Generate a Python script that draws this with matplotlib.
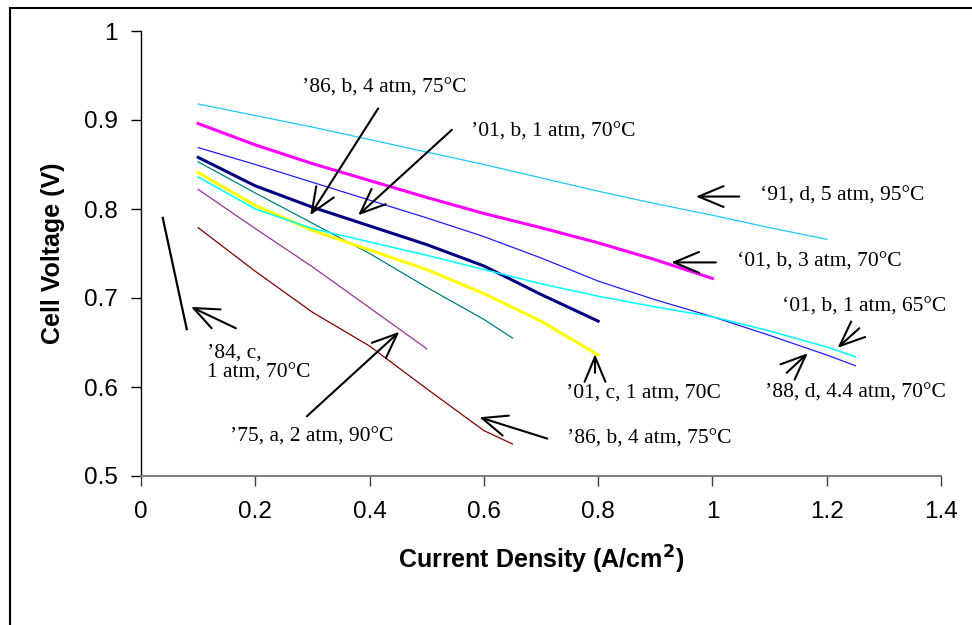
import matplotlib
matplotlib.use("Agg")
import matplotlib.pyplot as plt
from matplotlib.patches import Rectangle

# polarization curves
x_91 = [0.1, 0.2, 0.3, 0.4, 0.5, 0.6, 0.7, 0.8, 0.9, 1.0, 1.1, 1.2]
v_91 = [0.918, 0.905, 0.892, 0.878, 0.864, 0.850, 0.835, 0.820, 0.806, 0.793, 0.779, 0.766]

x_01b3 = [0.1, 0.2, 0.3, 0.4, 0.5, 0.6, 0.7, 0.8, 0.9, 1.0]
v_01b3 = [0.896, 0.872, 0.851, 0.832, 0.813, 0.795, 0.779, 0.762, 0.743, 0.722]

x_88 = [0.1, 0.2, 0.3, 0.4, 0.5, 0.6, 0.7, 0.8, 0.9, 1.0, 1.1, 1.2, 1.25]
v_88 = [0.869, 0.850, 0.830, 0.810, 0.790, 0.769, 0.745, 0.719, 0.698, 0.679, 0.658, 0.636, 0.624]

x_01b1_70 = [0.1, 0.2, 0.3, 0.4, 0.5, 0.6, 0.7, 0.8]
v_01b1_70 = [0.858, 0.826, 0.802, 0.781, 0.760, 0.736, 0.704, 0.674]

x_86a = [0.1, 0.2, 0.3, 0.4, 0.5, 0.6, 0.65]
v_86a = [0.853, 0.818, 0.784, 0.750, 0.712, 0.676, 0.655]

x_01c = [0.1, 0.2, 0.3, 0.4, 0.5, 0.6, 0.7, 0.8]
v_01c = [0.841, 0.804, 0.776, 0.754, 0.732, 0.705, 0.674, 0.636]

x_01b1_65 = [0.1, 0.2, 0.3, 0.4, 0.5, 0.6, 0.7, 0.8, 0.9, 1.0, 1.1, 1.2, 1.25]
v_01b1_65 = [0.836, 0.800, 0.778, 0.763, 0.748, 0.732, 0.716, 0.702, 0.690, 0.679, 0.663, 0.645, 0.634]

x_75 = [0.1, 0.2, 0.3, 0.4, 0.5]
v_75 = [0.822, 0.778, 0.735, 0.689, 0.643]

x_86b = [0.1, 0.2, 0.3, 0.4, 0.5, 0.6, 0.65]
v_86b = [0.779, 0.730, 0.684, 0.646, 0.598, 0.551, 0.536]

x_84 = [0.038, 0.08]
v_84 = [0.790, 0.665]

# (label, arrow tail, arrow tip)
notes = [
    ("\u201986, b, 4 atm, 75\u00b0C", (0.415, 0.913), (0.296, 0.793)),
    ("\u201901, b, 1 atm, 70\u00b0C", (0.544, 0.889), (0.380, 0.793)),
    ("\u201891, d, 5 atm, 95\u00b0C", (1.047, 0.814), (0.971, 0.814)),
    ("\u201801, b, 3 atm, 70\u00b0C", (1.006, 0.740), (0.928, 0.740)),
    ("\u201801, b, 1 atm, 65\u00b0C", (1.257, 0.666), (1.219, 0.644)),
    ("\u201988, d, 4.4 atm, 70\u00b0C", (1.130, 0.616), (1.167, 0.638)),
    ("\u201901, c, 1 atm, 70C", (0.7945, 0.616), (0.7945, 0.637)),
    ("\u201984, c,\n1 atm, 70\u00b0C", (0.166, 0.666), (0.0875, 0.690)),
    ("\u201975, a, 2 atm, 90\u00b0C", (0.290, 0.567), (0.452, 0.662)),
    ("\u201986, b, 4 atm, 75\u00b0C", (0.711, 0.542), (0.592, 0.566)),
]
# label positions (data coords)
label_pos = [
    (0.426, 0.936), (0.578, 0.887), (1.083, 0.814), (1.043, 0.740),
    (1.266, 0.690), (1.250, 0.593), (0.879, 0.593), (0.116, 0.627),
    (0.299, 0.544), (0.745, 0.542),
]
label_ha = ["center", "left", "left", "left", "center", "center", "center", "left", "center", "left"]

fig = plt.figure(figsize=(9.72, 6.25), dpi=100)
ax = fig.add_axes([0.1451, 0.2384, 0.8230, 0.7120])

ax.plot(x_91, v_91, color="#1ec8ff", lw=0.9)
ax.plot(x_01b3, v_01b3, color="#ff00ff", lw=2.2)
ax.plot(x_88, v_88, color="#1f1fff", lw=0.9)
ax.plot(x_01b1_70, v_01b1_70, color="#000080", lw=2.2)
ax.plot(x_86a, v_86a, color="#008080", lw=0.9)
ax.plot(x_01c, v_01c, color="#ffff00", lw=2.2)
ax.plot(x_01b1_65, v_01b1_65, color="#00ffff", lw=1.1)
ax.plot(x_75, v_75, color="#993399", lw=0.9)
ax.plot(x_86b, v_86b, color="#800000", lw=0.9)
ax.plot(x_84, v_84, color="black", lw=1.6)

for (txt, tail, tip), lp, ha in zip(notes, label_pos, label_ha):
    ax.annotate("", xy=tip, xytext=tail,
                arrowprops=dict(arrowstyle="->,head_length=1.2,head_width=0.5",
                                color="black", lw=1.5, shrinkA=0, shrinkB=0,
                                mutation_scale=15))
    ax.text(lp[0], lp[1], txt, ha=ha, va="center", fontsize=15.5,
            family="Liberation Serif", linespacing=1.05)

ax.set_xlim(0, 1.4)
ax.set_ylim(0.5, 1.0)
ax.set_xticks([0, 0.2, 0.4, 0.6, 0.8, 1.0, 1.2, 1.4])
ax.set_xticklabels(["0", "0.2", "0.4", "0.6", "0.8", "1", "1.2", "1.4"])
ax.set_yticks([0.5, 0.6, 0.7, 0.8, 0.9, 1.0])
ax.set_yticklabels(["0.5", "0.6", "0.7", "0.8", "0.9", "1"])

ax.spines["top"].set_visible(False)
ax.spines["right"].set_visible(False)
ax.spines["bottom"].set_color("#808080")
ax.spines["bottom"].set_linewidth(1.5)
ax.spines["left"].set_linewidth(1.0)
ax.tick_params(axis="both", direction="out", length=7, width=1.0,
               labelsize=17.5, labelfontfamily="Liberation Sans")
ax.tick_params(axis="x", pad=11, color="#404040")
ax.tick_params(axis="y", pad=10)
ax.yaxis.get_major_ticks()[0].tick1line.set_color("#808080")

ax.set_xlabel("Current Density (A/cm$^{\\mathbf{2}}$)", fontsize=18,
              fontweight="bold", family="Liberation Sans", labelpad=15)
ax.set_ylabel("Cell Voltage (V)", fontsize=18, fontweight="bold",
              family="Liberation Sans", labelpad=13)

# outer chart frame, cut off at right and bottom
fig.patches.append(Rectangle((0.0103, -0.1), 1.2, 1.087, transform=fig.transFigure,
                             fill=False, edgecolor="black", lw=1.5))

fig.savefig("out.png", dpi=100)
